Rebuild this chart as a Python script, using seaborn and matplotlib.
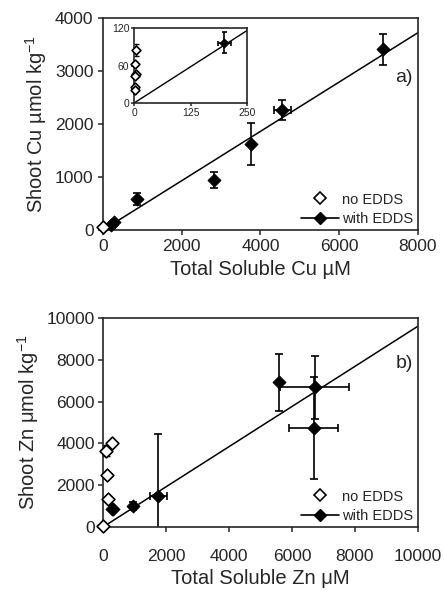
import numpy as np
import seaborn as sns
import matplotlib.pyplot as plt
from matplotlib.lines import Line2D

# panel a) Cu
cu_no_x = [0]
cu_no_y = [60]
cu_with_x = [200, 290, 855, 2819, 3759, 4558, 7119]
cu_with_y = [97, 160, 585, 937, 1623, 2261, 3410]
cu_with_xerr = [15, 0, 0, 0, 0, 220, 0]
cu_with_yerr = [17, 0, 115, 150, 390, 190, 290]
cu_slope = 0.465

# inset of panel a) (low range)
ins_no_x = [4, 2, 5, 3, 2, 1]
ins_no_y = [85, 63, 47, 43, 25, 21]
ins_no_yerr = [10, 0, 0, 0, 0, 0]
ins_with_x = [200]
ins_with_y = [97]
ins_with_xerr = [15]
ins_with_yerr = [17]

# panel b) Zn
zn_no_x = [0, 169, 137, 95, 275]
zn_no_y = [30, 1356, 2472, 3652, 4019]
zn_no_yerr = [0, 0, 0, 250, 0]
zn_with_x = [290, 330, 963, 1756, 5587, 6730, 6698]
zn_with_y = [880, 840, 1005, 1483, 6923, 6684, 4722]
zn_with_xerr = [0, 0, 0, 265, 0, 1095, 780]
zn_with_yerr = [0, 0, 190, 2970, 1360, 1510, 2450]
zn_slope = 0.96

sns.set_style("ticks")
plt.rcParams['font.family'] = ['Liberation Sans', 'DejaVu Sans']
plt.rcParams['mathtext.default'] = 'regular'
plt.rcParams['axes.linewidth'] = 1.2
plt.rcParams['xtick.major.width'] = 1.1
plt.rcParams['ytick.major.width'] = 1.1
plt.rcParams['xtick.major.size'] = 3.8
plt.rcParams['ytick.major.size'] = 3.8

fig = plt.figure(figsize=(4.44, 5.94), dpi=100)
ax_a = fig.add_axes([0.232, 0.6128, 0.709, 0.357])
ax_b = fig.add_axes([0.232, 0.1128, 0.709, 0.352])
ax_i = fig.add_axes([0.302, 0.8266, 0.2545, 0.126])


def draw(ax, no_x, no_y, with_x, with_y, with_xerr, with_yerr, slope, xmax,
         ms=6.5, no_yerr=None, lw=1.1):
    xs = np.array([0, xmax])
    sns.lineplot(x=xs, y=slope * xs, ax=ax, color='black', lw=lw)
    ax.errorbar(with_x, with_y, xerr=with_xerr, yerr=with_yerr, fmt='none',
                ecolor='black', elinewidth=1.2, capsize=ms * 0.4, capthick=1.2)
    if no_yerr is not None:
        ax.errorbar(no_x, no_y, yerr=no_yerr, fmt='none', ecolor='black',
                    elinewidth=1.0, capsize=ms * 0.4, capthick=1.0)
    sns.scatterplot(x=with_x, y=with_y, ax=ax, marker='D', s=ms ** 2,
                    color='black', edgecolor='black', linewidth=0.8,
                    clip_on=False, zorder=4)
    sns.scatterplot(x=no_x, y=no_y, ax=ax, marker='D', s=ms ** 2,
                    facecolor='white', edgecolor='black', linewidth=1.2,
                    clip_on=False, zorder=5)


def legend(ax):
    handles = [Line2D([], [], marker='D', ls='none', mfc='white', mec='black',
                      mew=1.2, ms=6.5),
               Line2D([], [], marker='D', color='black', lw=1.2, ms=6.5)]
    ax.legend(handles, ['no EDDS', 'with EDDS'], loc='lower right',
              frameon=False, fontsize=10.5, handlelength=2.6,
              handletextpad=0.2, labelspacing=0.35, borderaxespad=0.1,
              borderpad=0.2)


# panel a
draw(ax_a, cu_no_x, cu_no_y, cu_with_x, cu_with_y, cu_with_xerr,
     cu_with_yerr, cu_slope, 8000)
ax_a.set_xlim(0, 8000)
ax_a.set_ylim(0, 4000)
ax_a.set_xticks([0, 2000, 4000, 6000, 8000])
ax_a.set_yticks([0, 1000, 2000, 3000, 4000])
ax_a.set_xlabel('Total Soluble Cu µM', fontsize=14.5, labelpad=4)
ax_a.set_ylabel('Shoot Cu µmol kg$^{-1}$', fontsize=14.5, labelpad=4)
ax_a.text(0.985, 0.72, 'a)', transform=ax_a.transAxes, ha='right',
          va='center', fontsize=14)
legend(ax_a)
ax_a.tick_params(labelsize=12.5, pad=3)

# inset
draw(ax_i, ins_no_x, ins_no_y, ins_with_x, ins_with_y, ins_with_xerr,
     ins_with_yerr, cu_slope, 250, ms=4.5, no_yerr=ins_no_yerr, lw=1.0)
ax_i.set_xlim(0, 250)
ax_i.set_ylim(0, 120)
ax_i.set_xticks([0, 125, 250])
ax_i.set_yticks([0, 60, 120])
ax_i.tick_params(labelsize=7.5, length=2.5, pad=1)

# panel b
draw(ax_b, zn_no_x, zn_no_y, zn_with_x, zn_with_y, zn_with_xerr,
     zn_with_yerr, zn_slope, 10000, no_yerr=zn_no_yerr)
ax_b.set_xlim(0, 10000)
ax_b.set_ylim(0, 10000)
ax_b.set_xticks([0, 2000, 4000, 6000, 8000, 10000])
ax_b.set_yticks([0, 2000, 4000, 6000, 8000, 10000])
ax_b.set_xlabel('Total Soluble Zn μM', fontsize=14.5, labelpad=4)
ax_b.set_ylabel('Shoot Zn μmol kg$^{-1}$', fontsize=14.5, labelpad=4)
ax_b.text(0.985, 0.78, 'b)', transform=ax_b.transAxes, ha='right',
          va='center', fontsize=14)
legend(ax_b)
ax_b.tick_params(axis='y', labelsize=12.5, pad=2)
ax_b.tick_params(axis='x', labelsize=12.5, pad=12)

plt.savefig('out.png', dpi=100)
